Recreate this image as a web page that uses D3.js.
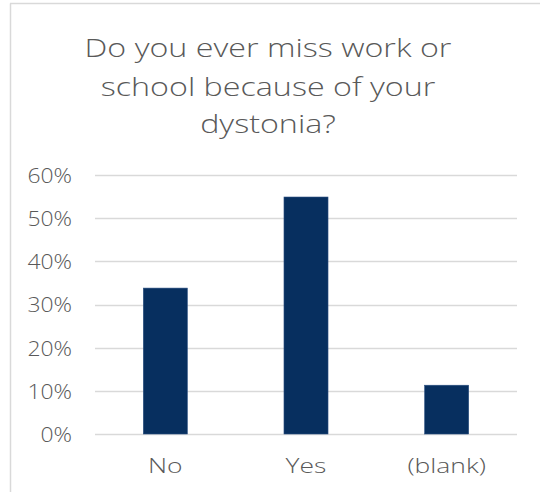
<!DOCTYPE html>
<html>
<head>
<meta charset="utf-8">
<script src="https://cdn.jsdelivr.net/npm/d3@7"></script>
<style>
  html, body { margin: 0; padding: 0; background: #fff; }
  svg { display: block; }
  text { font-family: "Open Sans", "Liberation Sans", sans-serif; fill: #595959; }
</style>
</head>
<body>
<svg id="chart" width="540" height="492"></svg>
<script>
// Survey answers and their share of respondents
const categories = ["No", "Yes", "(blank)"];
const shares = [0.338, 0.549, 0.113];
const yTicks = [0, 0.1, 0.2, 0.3, 0.4, 0.5, 0.6];
const titleLines = ["Do you ever miss work or", "school because of your", "dystonia?"];

const svg = d3.select("#chart");
const W = 540, H = 492;
const plot = { left: 95, right: 517, top: 175, bottom: 434 };

// stretch glyphs horizontally for a wide, geometric look
function widen(sel, k) {
  sel.each(function () {
    const w = this.getComputedTextLength();
    d3.select(this).attr("textLength", w * k).attr("lengthAdjust", "spacingAndGlyphs");
  });
}

// chart frame (left and top edges visible)
svg.append("line").attr("x1", 10.5).attr("x2", 10.5).attr("y1", 3.5).attr("y2", H)
  .attr("stroke", "#d9d9d9").attr("stroke-width", 1.5);
svg.append("line").attr("x1", 10).attr("x2", W).attr("y1", 3.5).attr("y2", 3.5)
  .attr("stroke", "#d9d9d9").attr("stroke-width", 1.5);

// title
const titleY = [57, 96, 133];
svg.append("g").selectAll("text").data(titleLines).join("text")
  .attr("x", 268).attr("y", (d, i) => titleY[i])
  .attr("text-anchor", "middle")
  .attr("font-size", 25)
  .attr("font-weight", 300)
  .text(d => d)
  .call(widen, 1.29);

const x = d3.scaleBand().domain(categories)
  .range([plot.left, plot.right])
  .paddingInner(0.687).paddingOuter(0.3435);
const y = d3.scaleLinear().domain([0, 0.6]).range([plot.bottom, plot.top]);

// gridlines
svg.append("g").selectAll("line").data(yTicks).join("line")
  .attr("x1", plot.left).attr("x2", plot.right)
  .attr("y1", d => Math.round(y(d)) + 0.5).attr("y2", d => Math.round(y(d)) + 0.5)
  .attr("stroke", "#d9d9d9").attr("stroke-width", 1.5);

// y axis labels
const yAxis = d3.axisLeft(y).tickValues(yTicks).tickFormat(d3.format(".0%")).tickSize(0).tickPadding(0);
const yg = svg.append("g").attr("transform", `translate(72,0)`).call(yAxis);
yg.select(".domain").remove();
yg.selectAll("text").attr("font-size", 21).attr("font-weight", 300).attr("fill", "#595959")
  .style("font-family", '"Open Sans", sans-serif').attr("dy", "0.35em")
  .call(widen, 1.09);

// bars
svg.append("g").selectAll("rect").data(categories).join("rect")
  .attr("x", d => x(d))
  .attr("width", x.bandwidth())
  .attr("y", (d, i) => y(shares[i]))
  .attr("height", (d, i) => y(0) - y(shares[i]))
  .attr("fill", "#072f5f")
  .attr("stroke", "#2a4f80").attr("stroke-width", 0.6);

// x axis labels
const xAxis = d3.axisBottom(x).tickSize(0).tickPadding(0);
const xg = svg.append("g").attr("transform", `translate(0,${plot.bottom})`).call(xAxis);
xg.select(".domain").remove();
xg.selectAll("text").attr("font-size", 21).attr("font-weight", 300).attr("fill", "#595959")
  .style("font-family", '"Open Sans", sans-serif').attr("y", 39).attr("dy", 0)
  .call(widen, 1.26);
</script>
</body>
</html>
